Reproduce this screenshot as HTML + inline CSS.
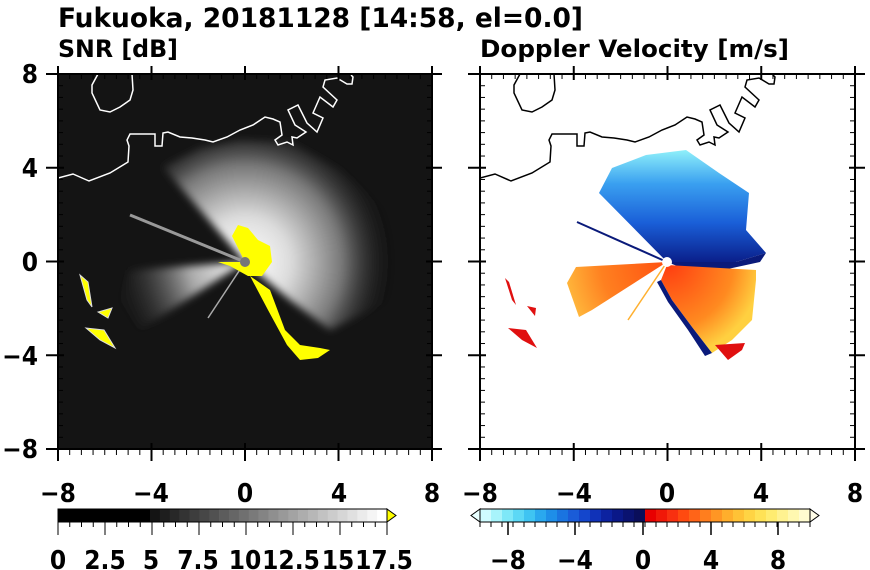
<!DOCTYPE html>
<html><head><meta charset="utf-8"><style>
html,body{margin:0;padding:0;background:#fff;}
svg{display:block;font-family:"DejaVu Sans Condensed","DejaVu Sans","Liberation Sans",sans-serif;font-stretch:condensed;font-weight:bold;}
</style></head><body>
<svg width="870" height="570" viewBox="0 0 870 570" xmlns="http://www.w3.org/2000/svg">
<defs>
<clipPath id="cl"><rect x="58" y="74" width="374" height="375"/></clipPath>
<clipPath id="cr"><rect x="480" y="74" width="375" height="375"/></clipPath>
<radialGradient id="wg" cx="245" cy="262" r="150" gradientUnits="userSpaceOnUse">
<stop offset="0" stop-color="#fff"/><stop offset="0.3" stop-color="#ddd"/><stop offset="0.65" stop-color="#777"/><stop offset="1" stop-color="#111" stop-opacity="0"/></radialGradient>
<radialGradient id="wg2" cx="245" cy="262" r="140" gradientUnits="userSpaceOnUse">
<stop offset="0" stop-color="#fff"/><stop offset="0.4" stop-color="#aaa"/><stop offset="1" stop-color="#111" stop-opacity="0"/></radialGradient>
<linearGradient id="bg" x1="0" y1="1" x2="0" y2="0">
<stop offset="0" stop-color="#0a1f8a"/><stop offset="0.35" stop-color="#1a5fd8"/><stop offset="0.7" stop-color="#3aa0f0"/><stop offset="1" stop-color="#8ff0fa"/></linearGradient>
<radialGradient id="og" cx="667" cy="262" r="110" gradientUnits="userSpaceOnUse">
<stop offset="0" stop-color="#ff5010"/><stop offset="0.6" stop-color="#ff8020"/><stop offset="1" stop-color="#ffc040"/></radialGradient>
<radialGradient id="og2" cx="667" cy="262" r="95" gradientUnits="userSpaceOnUse">
<stop offset="0" stop-color="#ff3a10"/><stop offset="0.7" stop-color="#ff8a20"/><stop offset="1" stop-color="#ffd040"/></radialGradient>
<filter id="bl"><feGaussianBlur stdDeviation="4"/></filter>
</defs>

<text x="58" y="27" font-size="27" textLength="525" lengthAdjust="spacingAndGlyphs">Fukuoka, 20181128 [14:58, el=0.0]</text>
<text x="58" y="57" font-size="24" textLength="120" lengthAdjust="spacingAndGlyphs">SNR [dB]</text>
<text x="480" y="57" font-size="24" textLength="309" lengthAdjust="spacingAndGlyphs">Doppler Velocity [m/s]</text>

<!-- LEFT PANEL -->
<g clip-path="url(#cl)">
<rect x="58" y="74" width="374" height="375" fill="#141414"/>
<g filter="url(#bl)">
<path d="M245,262 L163,167 L200,148 L240,140 L290,142 L340,170 L390,215 L420,262 L390,300 L330,330 L290,300 Z" fill="url(#wg)"/>
<path d="M245,262 L130,270 L120,300 L140,330 Z" fill="url(#wg2)"/>
</g>
<line x1="245" y1="262" x2="130" y2="215" stroke="#999" stroke-width="3"/>
<line x1="245" y1="262" x2="208" y2="318" stroke="#aaa" stroke-width="1.5"/>
<path d="M245,262 L232,236 L238,225 L248,228 L258,240 L270,246 L272,262 L262,276 L248,276 L230,266 L218,262 Z" fill="#ff0"/>
<path d="M250,276 L270,290 L285,330 L300,345 L320,348 L330,350 L318,358 L300,360 L287,345 L268,310 Z" fill="#ff0"/>
<path d="M80,275 L87,300 L92,307 L88,282 Z" fill="#ff0" stroke="#ddd"/>
<path d="M86,328 L100,340 L115,348 L104,330 Z" fill="#ff0" stroke="#ddd"/>
<path d="M98,312 L108,318 L112,308 Z" fill="#ff0" stroke="#ddd"/>
<circle cx="245" cy="262" r="5" fill="#777"/>
<g fill="none" stroke="#fff" stroke-width="1.5">
<polyline points="58,178 73,174 89,181 110,173 128,162 129,146 127,140 130,134 155,134 155,146 162,146 163,133 168,132 180,137 192,138 205,140 213,142 227,137 240,130 253,125 265,117 273,119 280,122 282,135 275,140 278,145 287,142 293,145 292,137 297,138 306,132 295,125 288,110 298,105 307,123 317,132 323,118 313,113 320,97 333,107 337,100 323,87 325,80 337,78 347,84 352,84 353,77 350,74"/>
<polyline points="98,74 92,85 92,93 100,110 110,112 120,107 130,100 133,90 132,74"/>
</g>
</g>
<rect x="58" y="74" width="374" height="375" fill="none" stroke="#000" stroke-width="2"/>

<!-- RIGHT PANEL -->
<g clip-path="url(#cr)">
<rect x="480" y="74" width="375" height="375" fill="#fff"/>
<path d="M667,262 L599,193 L612,168 L646,155 L686,150 L719,173 L749,193 L746,230 L766,253 L736,262 Z" fill="url(#bg)"/>
<path d="M667,262 L736,262 L766,253 L760,262 L700,275 Z" fill="#0a1a7a"/>
<path d="M667,265 L756,270 L756,280 L752,320 L732,340 L712,353 L692,327 L672,300 L661,280 Z" fill="url(#og2)"/>
<path d="M667,262 L576,267 L567,283 L579,317 L592,310 Z" fill="url(#og)"/>
<path d="M661,280 L672,300 L692,327 L712,353 L705,356 L688,330 L668,302 L657,282 Z" fill="#0a1a7a"/>
<line x1="667" y1="262" x2="577" y2="222" stroke="#0a1a7a" stroke-width="2"/>
<line x1="667" y1="262" x2="628" y2="320" stroke="#ffb030" stroke-width="1.5"/>
<path d="M505,278 L512,300 L516,305 L509,282 Z" fill="#e01010"/>
<path d="M508,328 L522,340 L537,348 L526,330 Z" fill="#e01010"/>
<path d="M527,306 L535,316 L536,308 Z" fill="#e01010"/>
<path d="M715,345 L728,360 L742,350 L745,343 Z" fill="#e01010"/>
<circle cx="667" cy="262" r="5" fill="#fff"/>
<g fill="none" stroke="#000" stroke-width="1.5" transform="translate(422,0)">
<polyline points="58,178 73,174 89,181 110,173 128,162 129,146 127,140 130,134 155,134 155,146 162,146 163,133 168,132 180,137 192,138 205,140 213,142 227,137 240,130 253,125 265,117 273,119 280,122 282,135 275,140 278,145 287,142 293,145 292,137 297,138 306,132 295,125 288,110 298,105 307,123 317,132 323,118 313,113 320,97 333,107 337,100 323,87 325,80 337,78 347,84 352,84 353,77 350,74"/>
<polyline points="98,74 92,85 92,93 100,110 110,112 120,107 130,100 133,90 132,74"/>
</g>
</g>
<rect x="480" y="74" width="375" height="375" fill="none" stroke="#000" stroke-width="2"/>

<g id="ticks" stroke="#000" stroke-width="1.5"></g>

<g font-size="26" text-anchor="middle">
<text x="58" y="502">−8</text><text x="151" y="502">−4</text><text x="245" y="502">0</text><text x="339" y="502">4</text><text x="432" y="502">8</text>
<text x="480" y="502">−8</text><text x="574" y="502">−4</text><text x="667" y="502">0</text><text x="761" y="502">4</text><text x="855" y="502">8</text>
</g>
<g font-size="26" text-anchor="end">
<text x="38" y="83">8</text><text x="38" y="177">4</text><text x="38" y="271">0</text><text x="38" y="365">−4</text><text x="38" y="458">−8</text>
</g>

<g id="cbl"></g><g id="cbr"></g>
<g font-size="26" text-anchor="middle">
<text x="58" y="569">0</text><text x="105" y="569">2.5</text><text x="151" y="569">5</text><text x="198" y="569">7.5</text><text x="245" y="569">10</text><text x="291" y="569">12.5</text><text x="338" y="569">15</text><text x="384" y="569">17.5</text>
<text x="508" y="569">−8</text><text x="575" y="569">−4</text><text x="643" y="569">0</text><text x="711" y="569">4</text><text x="778" y="569">8</text>
</g>
</svg>
<script>
var NS="http://www.w3.org/2000/svg";
function L(g,x1,y1,x2,y2,w){var l=document.createElementNS(NS,"line");l.setAttribute("x1",x1);l.setAttribute("y1",y1);l.setAttribute("x2",x2);l.setAttribute("y2",y2);l.setAttribute("stroke","#000");l.setAttribute("stroke-width",w||1.5);g.appendChild(l);}
function R(g,x,y,w,h,c){var r=document.createElementNS(NS,"rect");r.setAttribute("x",x);r.setAttribute("y",y);r.setAttribute("width",w);r.setAttribute("height",h);r.setAttribute("fill",c);g.appendChild(r);}
var t=document.getElementById("ticks");
[[58,432,74,449],[480,855,74,449]].forEach(function(p){
 var x0=p[0],x1=p[1],y0=p[2],y1=p[3],sx=(x1-x0)/16,sy=(y1-y0)/16;
 for(var i=0;i<=32;i++){var maj=(i%8==0);var x=x0+i*sx/2,y=y0+i*sy/2;
  if(maj){L(t,x,y1-6,x,y1+12,2);L(t,x,y0-8,x,y0+6,2);L(t,x0-12,y,x0+6,y,2);L(t,x1-6,y,x1+10,y,2);}
  else{L(t,x,y1,x,y1+6,1);L(t,x,y0,x,y0+5,1);L(t,x0,y,x0+5,y,1);L(t,x1-5,y,x1,y,1);}
 }});
var cl=document.getElementById("cbl");
R(cl,58,509,92,13,"#000");
var n=24,w=(387-150)/n;
for(var i=0;i<n;i++){var v=Math.round(20+i*(235/(n-1)));R(cl,150+i*w,509,w+0.3,13,"rgb("+v+","+v+","+v+")");}
var tri=document.createElementNS(NS,"polygon");tri.setAttribute("points","387,509 396,515.5 387,522");tri.setAttribute("fill","#ff0");tri.setAttribute("stroke","#000");cl.appendChild(tri);
var b=document.createElementNS(NS,"rect");b.setAttribute("x",58);b.setAttribute("y",509);b.setAttribute("width",329);b.setAttribute("height",13);b.setAttribute("fill","none");b.setAttribute("stroke","#000");cl.appendChild(b);
for(var i=0;i<=28;i++){var x=58+i*(329/28);L(cl,x,522,x,i%4==0?535:527,1);}
var cr=document.getElementById("cbr");
var cols=["#cffcff","#a8f4fb","#7ee8f8","#5cd8f5","#3fc4f2","#2aa8ee","#1e8ee8","#1a74e0","#1a5cd8","#1446cc","#1032b8","#0c22a0","#0a1888","#0a1270","#0a0e5a","#e80000","#f01808","#f83010","#ff4a10","#ff6418","#ff7e1e","#ff9624","#ffae2c","#ffc236","#ffd444","#ffe256","#ffec70","#fff290","#fff8b0","#fffcd0"];
var x0=480,x1=810,ww=(x1-x0)/cols.length;
cols.forEach(function(c,i){R(cr,x0+ww*i,509,ww+0.3,13,c);});
var p1=document.createElementNS(NS,"polygon");p1.setAttribute("points","480,509 471,515.5 480,522");p1.setAttribute("fill","#e8ffff");p1.setAttribute("stroke","#000");cr.appendChild(p1);
var p2=document.createElementNS(NS,"polygon");p2.setAttribute("points","810,509 819,515.5 810,522");p2.setAttribute("fill","#fffde8");p2.setAttribute("stroke","#000");cr.appendChild(p2);
var b2=document.createElementNS(NS,"rect");b2.setAttribute("x",480);b2.setAttribute("y",509);b2.setAttribute("width",330);b2.setAttribute("height",13);b2.setAttribute("fill","none");b2.setAttribute("stroke","#000");cr.appendChild(b2);
for(var i=0;i<=30;i++){var x=x0+i*ww;L(cr,x,522,x,527,1);}
[508,575,643,711,778].forEach(function(x){L(cr,x,522,x,535,1.5);});
</script>
</body></html>
